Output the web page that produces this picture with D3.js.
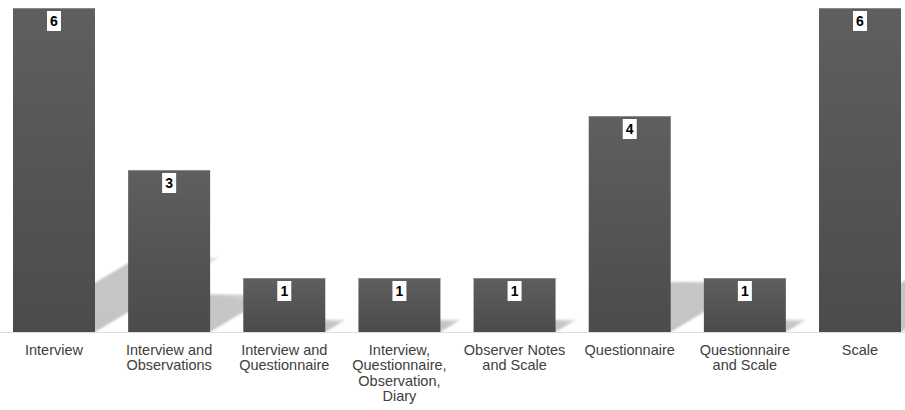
<!DOCTYPE html>
<html>
<head>
<meta charset="utf-8">
<script src="https://cdn.jsdelivr.net/npm/d3@7/dist/d3.min.js"></script>
<style>
  html, body { margin: 0; padding: 0; background: #fff; }
  svg { display: block; font-family: "Liberation Sans", Arial, sans-serif; }
</style>
</head>
<body>
<div id="chart"></div>
<script>
// Data collection methods and how many studies used each
const categories = [
  "Interview",
  "Interview and Observations",
  "Interview and Questionnaire",
  "Interview, Questionnaire, Observation, Diary",
  "Observer Notes and Scale",
  "Questionnaire",
  "Questionnaire and Scale",
  "Scale"
];
const counts = [6, 3, 1, 1, 1, 4, 1, 6];
// Wrapped axis labels, one array of lines per category
const labelLines = [
  ["Interview"],
  ["Interview and", "Observations"],
  ["Interview and", "Questionnaire"],
  ["Interview,", "Questionnaire,", "Observation,", "Diary"],
  ["Observer Notes", "and Scale"],
  ["Questionnaire"],
  ["Questionnaire", "and Scale"],
  ["Scale"]
];

const width = 905, height = 410;
const baseY = 332;

const svg = d3.select("#chart").append("svg")
  .attr("width", width).attr("height", height);

const x = d3.scaleBand()
  .domain(categories)
  .range([13, 901])
  .paddingInner(0.288)
  .paddingOuter(0);

const y = d3.scaleLinear()
  .domain([0, 6])
  .range([baseY, 8]);

const defs = svg.append("defs");

const barGrad = defs.append("linearGradient")
  .attr("id", "barGrad").attr("x1", 0).attr("y1", 0).attr("x2", 0).attr("y2", 1);
barGrad.append("stop").attr("offset", "0%").attr("stop-color", "#5f5f5f");
barGrad.append("stop").attr("offset", "100%").attr("stop-color", "#4b4b4b");

const shadowGrad = defs.append("linearGradient")
  .attr("id", "shadowGrad").attr("x1", 0).attr("y1", 1).attr("x2", 1).attr("y2", 0);
shadowGrad.append("stop").attr("offset", "0%").attr("stop-color", "#c4c4c4").attr("stop-opacity", 1);
shadowGrad.append("stop").attr("offset", "80%").attr("stop-color", "#c6c6c6").attr("stop-opacity", 1);
shadowGrad.append("stop").attr("offset", "100%").attr("stop-color", "#d0d0d0").attr("stop-opacity", 0.5);

const blur = defs.append("filter").attr("id", "soft")
  .attr("x", "-10%").attr("y", "-10%").attr("width", "120%").attr("height", "120%");
blur.append("feGaussianBlur").attr("stdDeviation", 1.2);

// Cast shadows falling up and to the right of each bar
svg.append("g").selectAll("polygon")
  .data(counts)
  .join("polygon")
  .attr("points", (d, i) => {
    const x0 = x(categories[i]), x1 = x0 + x.bandwidth();
    const h = y(0) - y(d);
    const dx = 0.385 * h, dy = 0.6 * dx;
    return [[x0, baseY], [x1, baseY], [x1 + dx, baseY - dy], [x0 + dx, baseY - dy]]
      .map(p => p.join(",")).join(" ");
  })
  .attr("fill", "url(#shadowGrad)")
  .attr("filter", "url(#soft)");

// Baseline
svg.append("line")
  .attr("x1", 0).attr("x2", width)
  .attr("y1", baseY + 0.5).attr("y2", baseY + 0.5)
  .attr("stroke", "#dedede").attr("stroke-width", 1);

// Bars
svg.append("g").selectAll("rect")
  .data(counts)
  .join("rect")
  .attr("x", (d, i) => x(categories[i]))
  .attr("y", d => y(d))
  .attr("width", x.bandwidth())
  .attr("height", d => y(0) - y(d))
  .attr("fill", "url(#barGrad)");

// Subtle highlight on the top edge of each bar
svg.append("g").selectAll("line")
  .data(counts)
  .join("line")
  .attr("x1", (d, i) => x(categories[i]))
  .attr("x2", (d, i) => x(categories[i]) + x.bandwidth())
  .attr("y1", d => y(d) + 0.5)
  .attr("y2", d => y(d) + 0.5)
  .attr("stroke", "#8a8a8a").attr("stroke-width", 1);

// Value tags
const tags = svg.append("g").selectAll("g")
  .data(counts)
  .join("g")
  .attr("transform", (d, i) => `translate(${x(categories[i]) + x.bandwidth() / 2},${y(d) + 3})`);
tags.append("rect")
  .attr("x", -7).attr("y", 0).attr("width", 14).attr("height", 20)
  .attr("fill", "#ffffff");
tags.append("text")
  .attr("x", 0).attr("y", 15)
  .attr("text-anchor", "middle")
  .attr("font-size", 14).attr("font-weight", "bold")
  .attr("fill", "#000")
  .text(d => d);

// Category labels
const labels = svg.append("g").selectAll("text")
  .data(categories)
  .join("text")
  .attr("x", d => x(d) + x.bandwidth() / 2)
  .attr("y", 355)
  .attr("text-anchor", "middle")
  .attr("font-size", 14.5)
  .attr("fill", "#404040");
labels.selectAll("tspan")
  .data((d, i) => labelLines[i])
  .join("tspan")
  .attr("x", function () { return d3.select(this.parentNode).attr("x"); })
  .attr("dy", (d, j) => j === 0 ? 0 : 15.3)
  .text(d => d);
</script>
</body>
</html>
